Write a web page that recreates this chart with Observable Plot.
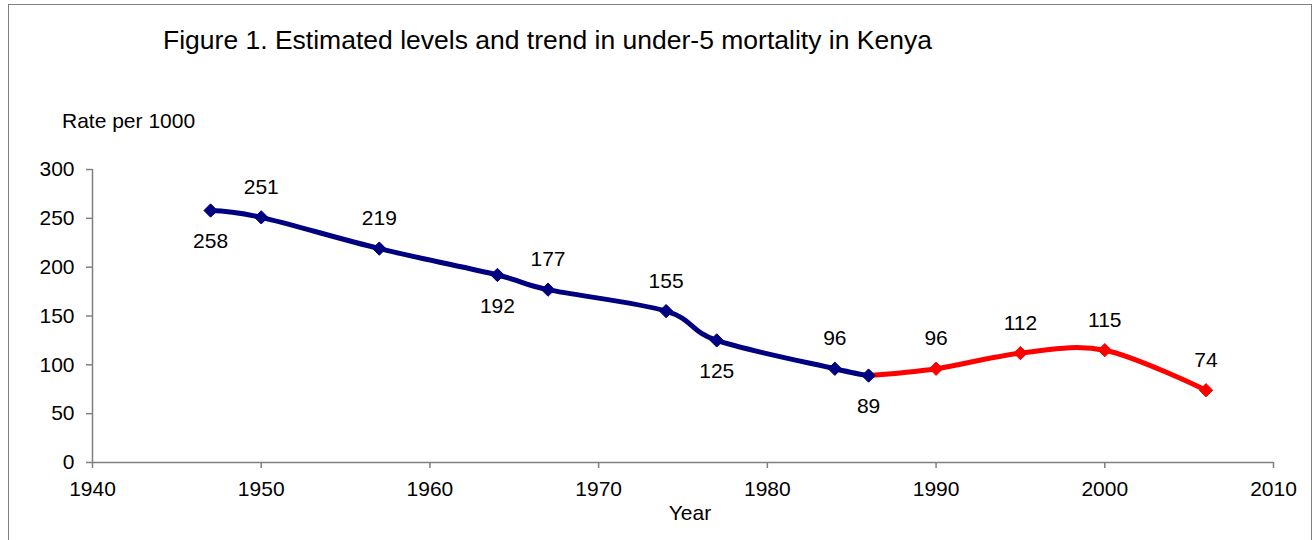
<!DOCTYPE html>
<html>
<head>
<meta charset="utf-8">
<script src="https://cdn.jsdelivr.net/npm/d3@7"></script>
<script src="https://cdn.jsdelivr.net/npm/@observablehq/plot@0.6"></script>
<style>
  html, body { margin: 0; padding: 0; background: #fff; overflow: hidden; }
  #page { position: relative; width: 1314px; height: 540px; overflow: hidden; font-family: "Liberation Sans", Arial, sans-serif; }
  #frame { position: absolute; left: 8px; top: 4px; width: 1304px; height: 700px; border: 1px solid #808080; box-sizing: border-box; }
  #header { position: relative; height: 140px; }
  #title { position: absolute; left: 163px; top: 27px; font-size: 26.5px; line-height: 1; color: #000; white-space: nowrap; }
  #ylabel { position: absolute; left: 62px; top: 110px; font-size: 21px; line-height: 1; color: #000; white-space: nowrap; }
  #chart svg { display: block; }
</style>
</head>
<body>
<div id="page">
  <div id="frame"></div>
  <div id="header">
    <div id="title">Figure 1. Estimated levels and trend in under-5 mortality in Kenya</div>
    <div id="ylabel">Rate per 1000</div>
  </div>
  <div id="chart"></div>
</div>
<script>
// Data
const estimatedYears = [1947, 1950, 1957, 1964, 1967, 1974, 1977, 1984, 1986];
const estimatedRates = [258, 251, 219, 192, 177, 155, 125, 96, 89];
const estimatedLabelSide = ["below", "above", "above", "below", "above", "above", "below", "above", "below"];

const trendYears = [1986, 1990, 1995, 2000, 2006];
const trendRates = [89, 96, 112, 115, 74];
const trendLabelSide = [null, "above", "above", "above", "above"]; // 1986 point is labelled by the first series

const xTicks = [1940, 1950, 1960, 1970, 1980, 1990, 2000, 2010];
const yTicks = [0, 50, 100, 150, 200, 250, 300];
const xAxisTitle = "Year";

const blue = estimatedYears.map((year, i) => ({year, rate: estimatedRates[i], side: estimatedLabelSide[i]}));
const red = trendYears.map((year, i) => ({year, rate: trendRates[i], side: trendLabelSide[i]}));
const labels = [...blue, ...red.filter(d => d.side)];

const navy = "#000080";
const redColor = "#FF0000";
const axisGray = "#808080";

const chart = Plot.plot({
  width: 1314,
  height: 400,
  marginLeft: 92,
  marginRight: 41,
  marginTop: 29,
  marginBottom: 78,
  style: {fontFamily: "'Liberation Sans', Arial, sans-serif", fontSize: "21px", color: "#000", background: "transparent"},
  x: {domain: [1940, 2010]},
  y: {domain: [0, 300]},
  marks: [
    Plot.axisX({ticks: xTicks, tickFormat: d => String(d), tickSize: 6, tickPadding: 13, stroke: axisGray, strokeWidth: 1.5, label: null, fill: "#000"}),
    Plot.axisY({ticks: yTicks, tickSize: 6, tickPadding: 12, stroke: axisGray, strokeWidth: 1.5, label: null, fill: "#000"}),
    Plot.ruleY([0], {stroke: axisGray, strokeWidth: 1.5}),
    Plot.ruleX([1940], {y1: 0, y2: 300, stroke: axisGray, strokeWidth: 1.5}),
    Plot.line(red, {x: "year", y: "rate", stroke: redColor, strokeWidth: 5, curve: "cardinal"}),
    Plot.line(blue, {x: "year", y: "rate", stroke: navy, strokeWidth: 5, curve: "cardinal"}),
    Plot.dot(red.slice(1), {x: "year", y: "rate", symbol: "diamond2", r: 6, fill: redColor, stroke: redColor, strokeWidth: 1}),
    Plot.dot(blue, {x: "year", y: "rate", symbol: "diamond2", r: 6, fill: navy, stroke: navy, strokeWidth: 1}),
    Plot.text(labels.filter(d => d.side === "above"), {x: "year", y: "rate", text: d => String(d.rate), dy: -30, fill: "#000", fontSize: 21}),
    Plot.text(labels.filter(d => d.side === "below"), {x: "year", y: "rate", text: d => String(d.rate), dy: 31, fill: "#000", fontSize: 21}),
    Plot.text([xAxisTitle], {frameAnchor: "bottom", dx: 7, dy: 57, fill: "#000", fontSize: 21})
  ]
});
document.getElementById("chart").appendChild(chart);
</script>
</body>
</html>
